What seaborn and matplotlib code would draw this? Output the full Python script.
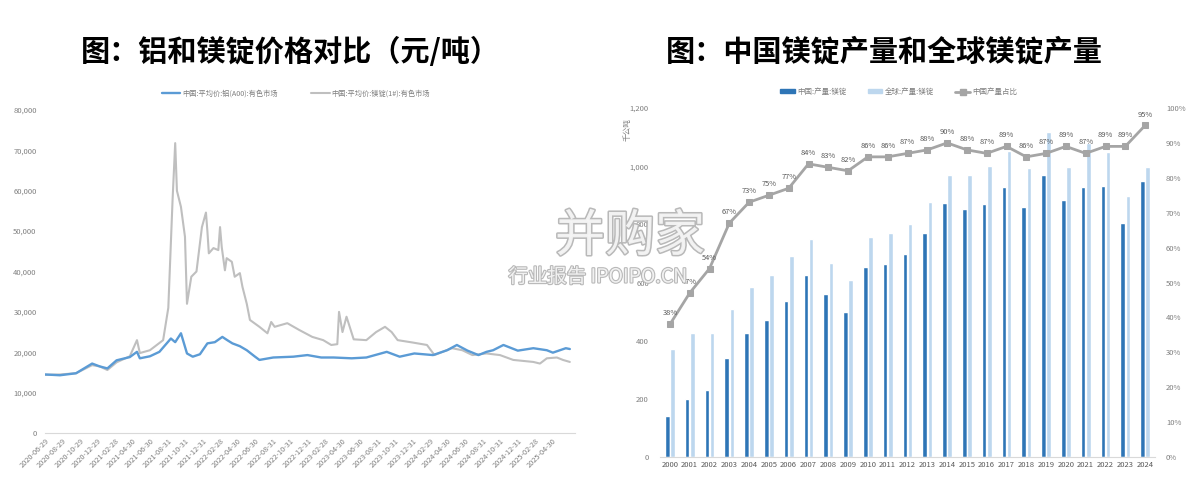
import numpy as np
import pandas as pd
import matplotlib
matplotlib.use("Agg")
import matplotlib.pyplot as plt
import matplotlib.ticker as mticker
import matplotlib.patheffects as pe
from matplotlib.lines import Line2D
from matplotlib.patches import Patch
import seaborn as sns

# ---------------- data: left chart (price, 元/吨) ----------------
al_name = "中国:平均价:铝(A00):有色市场"
mg_name = "中国:平均价:镁锭(1#):有色市场"

al_dates = ["2020-06-29","2020-08-20","2020-10-15","2020-12-10","2021-01-05","2021-02-01","2021-03-05","2021-04-20",
            "2021-05-15","2021-05-25","2021-06-29","2021-08-01","2021-09-10","2021-09-25","2021-10-15","2021-11-05",
            "2021-11-25","2021-12-20","2022-01-15","2022-02-10","2022-03-08","2022-03-25","2022-04-12","2022-05-08",
            "2022-06-01","2022-06-28","2022-07-15","2022-09-01","2022-11-10","2022-12-29","2023-02-15","2023-03-30",
            "2023-06-01","2023-07-22","2023-10-01","2023-11-15","2024-01-05","2024-03-10","2024-04-28","2024-06-01",
            "2024-07-08","2024-08-15","2024-09-12","2024-10-05","2024-11-10","2024-12-30","2025-02-22","2025-04-10",
            "2025-05-01","2025-06-15","2025-06-29"]
al_vals = [14500,14300,14800,17200,16500,16000,18000,18800,20100,18500,
           19000,20100,23400,22500,24700,19700,18900,19500,22200,22500,
           23800,23000,22200,21500,20500,19000,18100,18700,18900,19300,
           18700,18700,18500,18700,20100,18900,19700,19300,20500,21800,
           20400,19300,20100,20500,21800,20400,21000,20500,19900,21000,20800]

mg_dates = ["2020-06-29","2020-08-20","2020-10-15","2020-12-10","2021-01-05","2021-02-01","2021-03-05","2021-04-20",
            "2021-05-15","2021-05-25","2021-06-29","2021-08-14","2021-09-01","2021-09-16","2021-09-25","2021-10-01",
            "2021-10-15","2021-10-29","2021-11-05","2021-11-20","2021-12-08","2021-12-27","2022-01-10","2022-01-15",
            "2022-01-20","2022-02-05","2022-02-22","2022-02-28","2022-03-06","2022-03-17","2022-03-23","2022-04-10",
            "2022-04-20","2022-05-08","2022-05-17","2022-06-01","2022-06-12","2022-07-15","2022-08-12","2022-08-25",
            "2022-09-06","2022-10-20","2022-12-01","2023-01-15","2023-02-22","2023-03-22","2023-04-12","2023-04-18",
            "2023-04-30","2023-05-14","2023-06-08","2023-07-22","2023-08-25","2023-09-25","2023-10-18","2023-11-08",
            "2023-12-31","2024-02-18","2024-03-15","2024-04-12","2024-05-15","2024-06-20","2024-07-25","2024-09-12",
            "2024-10-29","2024-12-14","2025-02-22","2025-03-17","2025-04-10","2025-05-15","2025-06-05","2025-06-29"]
mg_vals = [14400,14500,14800,16800,16500,15600,17500,19000,23000,19800,
           20500,23000,31000,58000,71800,60000,56000,48600,32000,38700,
           40000,51000,54600,50000,44500,45800,45300,51000,46000,40300,
           43300,42400,38700,39600,36200,32000,28000,26300,24700,27500,
           26300,27200,25500,23800,23000,21800,22000,30000,25000,28800,
           23200,23000,25000,26300,25000,23000,22400,21800,19300,20100,
           21000,20500,19300,19700,19300,18100,17600,17200,18500,18700,
           18100,17600]

date_ticks = ["2020-06-29","2020-08-29","2020-10-29","2020-12-29","2021-02-28","2021-04-30","2021-06-30",
              "2021-08-31","2021-10-31","2021-12-31","2022-02-28","2022-04-30","2022-06-30","2022-08-31",
              "2022-10-31","2022-12-31","2023-02-28","2023-04-30","2023-06-30","2023-08-31","2023-10-31",
              "2023-12-31","2024-02-29","2024-04-30","2024-06-30","2024-08-31","2024-10-31","2024-12-31",
              "2025-02-28","2025-04-30"]

# ---------------- data: right chart (产量, 千公吨) ----------------
years = [str(y) for y in range(2000, 2025)]
china_name = "中国:产量:镁锭"
world_name = "全球:产量:镁锭"
ratio_name = "中国产量占比"
china_prod = [140,200,230,340,426,470,535,626,560,500,652,662,697,770,872,852,869,928,860,968,885,929,932,803,948]
world_prod = [370,426,426,509,585,625,690,749,668,608,756,769,800,877,968,968,999,1051,995,1119,998,1078,1048,897,998]
china_share = [38,47,54,67,73,75,77,84,83,82,86,86,87,88,90,88,87,89,86,87,89,87,89,89,95]

# ---------------- style ----------------
sns.set_theme(style="white")
plt.rcParams['font.family'] = ['Noto Sans CJK SC', 'DejaVu Sans']
plt.rcParams['axes.unicode_minus'] = False

C_AL = "#5B9BD5"
C_MG = "#BFBFBF"
C_CN = "#2E75B6"
C_WD = "#BDD7EE"
C_RT = "#A5A5A5"
C_TXT = "#7F7F7F"
C_AX = "#D9D9D9"

fig = plt.figure(figsize=(12, 4.91), dpi=100)

# ---------------- left chart ----------------
axL = fig.add_axes([45/1200, (491-433)/491, 530/1200, 323/491])
price_df = pd.concat([
    pd.DataFrame({"date": pd.to_datetime(mg_dates), "price": mg_vals, "series": mg_name}),
    pd.DataFrame({"date": pd.to_datetime(al_dates), "price": al_vals, "series": al_name}),
])
sns.lineplot(data=price_df, x="date", y="price", hue="series", hue_order=[mg_name, al_name],
             palette={al_name: C_AL, mg_name: C_MG}, size="series",
             sizes={al_name: 1.7, mg_name: 1.5}, ax=axL, legend=False, estimator=None, sort=True)

axL.set_ylim(0, 80000)
axL.set_yticks(np.arange(0, 80001, 10000))
axL.yaxis.set_major_formatter(mticker.FuncFormatter(lambda v, p: f"{int(v):,}"))
tick_dt = pd.to_datetime(date_ticks)
axL.set_xlim(pd.Timestamp("2020-06-29"), pd.Timestamp("2025-07-17"))
axL.set_xticks(tick_dt)
axL.set_xticklabels(date_ticks, rotation=45, ha="right", rotation_mode="anchor")
axL.set_xlabel("")
axL.set_ylabel("")
axL.tick_params(axis="y", labelsize=5.5, labelcolor=C_TXT, length=0, pad=6)
axL.tick_params(axis="x", labelsize=5.3, labelcolor=C_TXT, length=0, pad=3)
for s in ["top", "right", "left"]:
    axL.spines[s].set_visible(False)
axL.spines["bottom"].set_color(C_AX)
axL.spines["bottom"].set_linewidth(0.8)

fig.legend(handles=[Line2D([], [], color=C_AL, lw=1.7), Line2D([], [], color=C_MG, lw=1.5)],
           labels=[al_name, mg_name], loc="center", bbox_to_anchor=(296/1200, 1-94/491),
           ncol=2, frameon=False, fontsize=5.2, handlelength=2.6, columnspacing=4.5,
           handletextpad=0.3, labelcolor=C_TXT)

# ---------------- right chart ----------------
axR = fig.add_axes([660/1200, (491-457)/491, 495/1200, 349/491])
prod_df = pd.concat([
    pd.DataFrame({"year": years, "value": china_prod, "series": china_name}),
    pd.DataFrame({"year": years, "value": world_prod, "series": world_name}),
])
sns.barplot(data=prod_df, x="year", y="value", hue="series", hue_order=[china_name, world_name],
            palette={china_name: C_CN, world_name: C_WD}, width=0.52, gap=0.08,
            ax=axR, legend=False, saturation=1, errorbar=None)
axR.set_xlim(-0.5, len(years) - 0.5)
axR.set_ylim(0, 1200)
axR.set_yticks(np.arange(0, 1201, 200))
axR.yaxis.set_major_formatter(mticker.FuncFormatter(lambda v, p: f"{int(v):,}"))
axR.set_xlabel("")
axR.set_ylabel("")
axR.tick_params(axis="y", labelsize=5.5, labelcolor=C_TXT, length=0, pad=8)
axR.tick_params(axis="x", labelsize=5.5, labelcolor="#595959", length=0, pad=3)
for s in ["top", "right", "left"]:
    axR.spines[s].set_visible(False)
axR.spines["bottom"].set_color(C_AX)
axR.spines["bottom"].set_linewidth(0.8)

axR2 = axR.twinx()
share_df = pd.DataFrame({"pos": np.arange(len(years)), "share": np.array(china_share) / 100})
sns.lineplot(data=share_df, x="pos", y="share", ax=axR2, color=C_RT, lw=2.0, marker="s",
             markersize=4.2, markeredgecolor=C_RT, markerfacecolor=C_RT, legend=False)
for i, v in enumerate(china_share):
    axR2.annotate(f"{v}%", (i, v / 100), xytext=(0, 5), textcoords="offset points",
                  ha="center", va="bottom", fontsize=5.4, color="#595959")
axR2.set_ylim(0, 1.0)
axR2.set_xlim(-0.5, len(years) - 0.5)
axR2.set_yticks(np.arange(0, 1.01, 0.1))
axR2.yaxis.set_major_formatter(mticker.FuncFormatter(lambda v, p: f"{int(round(v*100))}%"))
axR2.set_ylabel("")
axR2.tick_params(axis="y", labelsize=5.5, labelcolor=C_TXT, length=0, pad=8)
for s in ["top", "right", "left", "bottom"]:
    axR2.spines[s].set_visible(False)

fig.text(628/1200, 1-130/491, "千公吨", rotation=90, fontsize=5.5, color=C_TXT, ha="center", va="center")

fig.legend(handles=[Patch(color=C_CN), Patch(color=C_WD),
                    Line2D([], [], color=C_RT, lw=2.0, marker="s", markersize=4)],
           labels=[china_name, world_name, ratio_name], loc="center",
           bbox_to_anchor=(899/1200, 1-92/491), ncol=3, frameon=False, fontsize=5.4,
           handlelength=1.9, handleheight=0.5, columnspacing=2.8, handletextpad=0.4,
           labelcolor=C_TXT)

# ---------------- titles ----------------
fig.text(290/1200, 1-52/491, "图：铝和镁锭价格对比（元/吨）", fontsize=21, fontweight="heavy",
         ha="center", va="center", color="black")
fig.text(884/1200, 1-52/491, "图：中国镁锭产量和全球镁锭产量", fontsize=21, fontweight="heavy",
         ha="center", va="center", color="black")

# ---------------- watermark ----------------
fig.text(630/1200, 1-237/491, "并购家", fontsize=36, color="#f5f5f5", ha="center", va="center",
         path_effects=[pe.withStroke(linewidth=2.2, foreground="#b5b5b5")], alpha=0.95, zorder=10)
fig.text(598/1200, 1-277/491, "行业报告 IPOIPO.CN", fontsize=14, color="#f5f5f5", ha="center",
         va="center", path_effects=[pe.withStroke(linewidth=1.6, foreground="#b5b5b5")],
         alpha=0.95, zorder=10)

fig.savefig("out.png", dpi=100)
